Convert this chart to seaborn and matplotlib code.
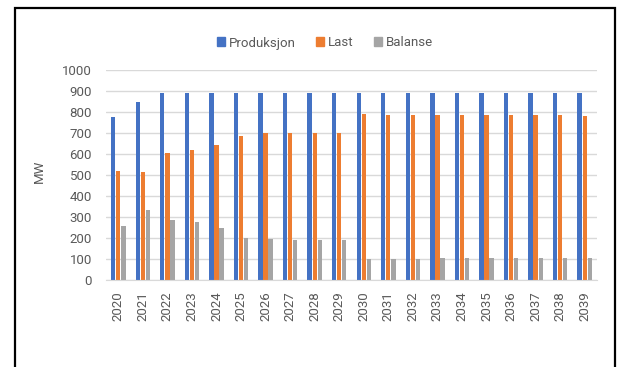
#!/usr/bin/env python3

import numpy as np
import pandas as pd
import seaborn as sns
import matplotlib.pyplot as plt
from matplotlib.patches import Rectangle

years = [str(y) for y in range(2020, 2040)]
produksjon = [778, 846, 889, 889, 889, 889, 889, 889, 889, 889,
              889, 889, 889, 889, 889, 889, 889, 889, 889, 889]
last = [519, 514, 605, 619, 643, 686, 698, 701, 701, 698,
        790, 786, 786, 786, 786, 786, 786, 786, 786, 781]
balanse = [259, 332, 286, 275, 248, 202, 194, 190, 190, 190,
           101, 101, 101, 105, 105, 105, 105, 105, 105, 105]
series = ["Produksjon", "Last", "Balanse"]
colors = ["#4472C4", "#ED7D31", "#A5A5A5"]

df = pd.DataFrame({"year": years, "Produksjon": produksjon,
                   "Last": last, "Balanse": balanse})
long = df.melt(id_vars="year", var_name="serie", value_name="MW")

sns.set_style("white")
plt.rcParams["font.family"] = ["Roboto", "DejaVu Sans"]

W, H = 619, 367
fig = plt.figure(figsize=(W / 100, H / 100), dpi=100)
# plot area in pixels: x 106..597, y 70..280
ax = fig.add_axes([106 / W, 1 - 280 / H, 491 / W, 210 / H])

sns.barplot(data=long, x="year", y="MW", hue="serie", hue_order=series,
            palette=colors, width=0.62, gap=0.15, ax=ax, legend=False,
            saturation=1, errorbar=None, linewidth=0)

ax.set_xlim(-0.5, len(years) - 0.5)
ax.set_ylim(0, 1000)
ax.set_yticks(np.arange(0, 1001, 100))
ax.yaxis.grid(True, color="#D9D9D9", lw=1)
ax.set_axisbelow(True)
for s in ["top", "right", "left"]:
    ax.spines[s].set_visible(False)
ax.spines["bottom"].set_color("#D9D9D9")
ax.tick_params(axis="both", length=0, colors="#595959", labelsize=9.5)
ax.tick_params(axis="x", rotation=90, pad=8)
ax.tick_params(axis="y", pad=10)
ax.set_xlabel("")
ax.set_ylabel("MW", color="#595959", fontsize=9.5)
ax.yaxis.set_label_coords((46 - 106) / 491, (280 - 171.5) / 210)

handles = [Rectangle((0, 0), 1, 1, color=c) for c in colors]
fig.legend(handles, series, loc="center", bbox_to_anchor=(325 / W, 1 - 43 / H),
           ncol=3, frameon=False, fontsize=9.5, handlelength=0.65, handleheight=0.65,
           handletextpad=0.3, columnspacing=1.5, labelcolor="#595959")

# outer frame, bottom edge runs off the picture
fig.patches.append(Rectangle((15 / W, -0.05), 600 / W, 1.05 - 8 / H,
                             transform=fig.transFigure, fill=False,
                             edgecolor="black", lw=1.6))

fig.savefig("out.png", dpi=100)
